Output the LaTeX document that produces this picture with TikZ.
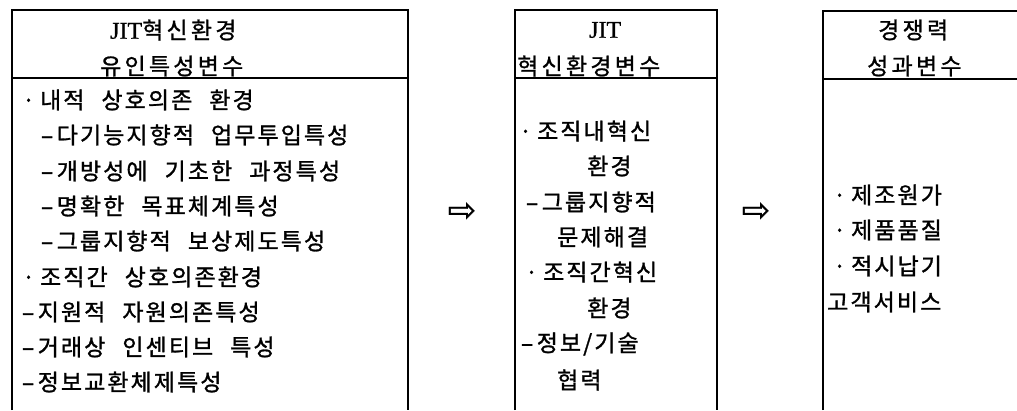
\documentclass[tikz,border=0pt]{standalone}
\usepackage{fontspec}
\newfontfamily\kr[LetterSpace=9,FakeBold=1.2]{Noto Sans CJK KR}
\newfontfamily\krh[LetterSpace=14,FakeBold=1.0]{Noto Sans CJK KR}
\newfontfamily\jit[FakeBold=0.6]{Liberation Serif}
\newfontfamily\arrfont[FakeBold=0.8]{DejaVu Sans}
\newcommand\ws{\hspace{17pt}}
\newcommand\bul{·\hspace{5pt}}
\newcommand\dsh{\scalebox{1.7}[1]{-}\hspace{3pt}}
\begin{document}
\begin{tikzpicture}[x=1pt,y=-1pt,
  boxline/.style={line width=1.4pt,black},
  body/.style={anchor=west,inner sep=0pt,font=\kr\fontsize{23}{23}\selectfont},
  head/.style={anchor=west,inner sep=0pt,font=\krh\fontsize{23}{23}\selectfont},
  flow/.style={inner sep=0pt,font=\arrfont\fontsize{34}{34}\selectfont}]
\useasboundingbox (0,0) rectangle (1017,410);
\fill[white] (0,0) rectangle (1017,410);
% boxes
\coordinate (Ltl) at (12,10); \coordinate (Ltr) at (408,10);
\coordinate (Lbl) at (12,410); \coordinate (Lbr) at (408,410);
\coordinate (Ldl) at (12,78); \coordinate (Ldr) at (408,78);
\draw[boxline] (Lbl) -- (Ltl) -- (Ltr) -- (Lbr);
\draw[boxline] (Ldl) -- (Ldr);
\coordinate (Mtl) at (515,10); \coordinate (Mtr) at (717,10);
\coordinate (Mbl) at (515,410); \coordinate (Mbr) at (717,410);
\coordinate (Mdl) at (515,78); \coordinate (Mdr) at (717,78);
\draw[boxline] (Mbl) -- (Mtl) -- (Mtr) -- (Mbr);
\draw[boxline] (Mdl) -- (Mdr);
\coordinate (Rtl) at (823,11); \coordinate (Rtr) at (1017,11);
\coordinate (Rbl) at (823,410);
\coordinate (Rdl) at (823,79); \coordinate (Rdr) at (1017,79);
\draw[boxline] (Rbl) -- (Rtl) -- (Rtr);
\draw[boxline] (Rdl) -- (Rdr);
% headers
\node[head] (lh1) at (110,30) {{\jit\fontsize{24}{24}\selectfont JIT}혁신환경};
\node[head] (lh2) at (100,66) {유인특성변수};
\node[head] (mh1) at (589,30) {\jit\fontsize{24}{24}\selectfont JIT};
\node[head] (mh2) at (517,66) {혁신환경변수};
\node[head] (rh1) at (878,30) {경쟁력};
\node[head] (rh2) at (867,66) {성과변수};
% left body
\node[body] (l1) at (22,100) {\bul 내적\ws 상호의존\ws 환경};
\node[body] (l2) at (40,135) {\dsh 다기능지향적\ws 업무투입특성};
\node[body] (l3) at (40,171) {\dsh 개방성에\ws 기초한\ws 과정특성};
\node[body] (l4) at (40,206) {\dsh 명확한\ws 목표체계특성};
\node[body] (l5) at (40,241) {\dsh 그룹지향적\ws 보상제도특성};
\node[body] (l6) at (22,277) {\bul 조직간\ws 상호의존환경};
\node[body] (l7) at (21,312) {\dsh 지원적\ws 자원의존특성};
\node[body] (l8) at (21,347) {\dsh 거래상\ws 인센티브\ws 특성};
\node[body] (l9) at (21,382) {\dsh 정보교환체제특성};
% middle body
\node[body] (m1) at (519,131) {\bul 조직내혁신};
\node[body] (m2) at (587,166) {환경};
\node[body] (m3) at (525,202) {\dsh 그룹지향적};
\node[body] (m4) at (557,237) {문제해결};
\node[body] (m5) at (525,272) {\bul 조직간혁신};
\node[body] (m6) at (587,308) {환경};
\node[body] (m7) at (520,344) {\dsh 정보/기술};
\node[body] (m8) at (557,380) {협력};
% right body
\node[body] (r1) at (833,195) {\bul 제조원가};
\node[body] (r2) at (833,230) {\bul 제품품질};
\node[body] (r3) at (833,266) {\bul 적시납기};
\node[body] (r4) at (827,302) {고객서비스};
% arrows
\node[flow] (a1) at (462,212) {⇨};
\node[flow] (a2) at (756,212) {⇨};
\end{tikzpicture}
\end{document}
